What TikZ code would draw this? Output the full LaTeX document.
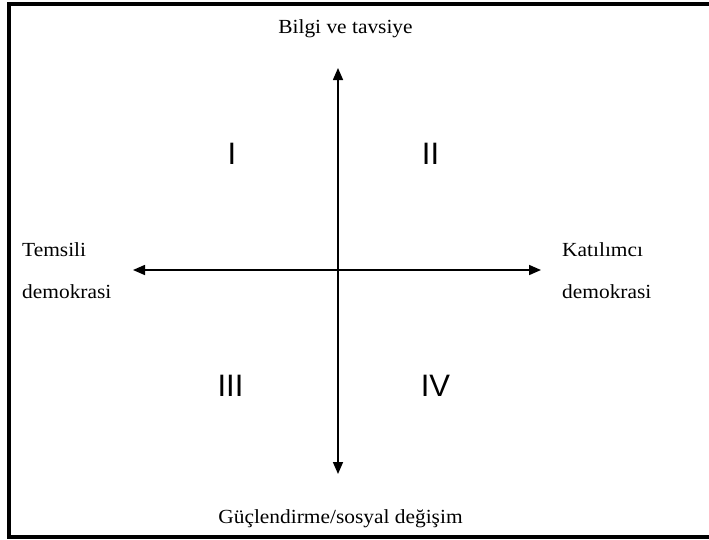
\documentclass[tikz,border=0pt]{standalone}
\usepackage{fontspec}
\setmainfont{Liberation Serif}
\newfontfamily\numfont{Liberation Sans}
\usetikzlibrary{arrows.meta}
\newcommand{\widetext}[1]{\scalebox{1.07}[1]{#1}}
\tikzset{
  frameline/.style={line width=4pt},
  axis/.style={line width=1.6pt, {Triangle[length=12pt,width=10pt]}-{Triangle[length=12pt,width=10pt]}},
  lbl/.style={inner sep=0pt, font=\fontsize{20}{20}\selectfont},
  quad/.style={inner sep=0pt, font=\numfont\fontsize{31}{31}\selectfont}
}
\begin{document}
\begin{tikzpicture}[x=1pt,y=-1pt]
  \useasboundingbox (0,0) rectangle (709,539);
  \fill[white] (0,0) rectangle (709,539);
  \begin{scope}
    \clip (0,0) rectangle (709,539);
    \draw[frameline] (9,4) rectangle (720,537);
  \end{scope}
  % axis end points
  \coordinate (n) at (338,68);
  \coordinate (s) at (338,474);
  \coordinate (w) at (133,270);
  \coordinate (e) at (541,270);
  \draw[axis] (n) -- (s);
  \draw[axis] (w) -- (e);
  % axis labels
  \node[lbl, anchor=base] (top) at (345.5,33) {\widetext{Bilgi ve tavsiye}};
  \node[lbl, anchor=base] (bottom) at (340.5,523) {\widetext{Güçlendirme/sosyal değişim}};
  \node[lbl, anchor=base west] (left1) at (22,256) {\widetext{Temsili}};
  \node[lbl, anchor=base west] (left2) at (22,298) {\widetext{demokrasi}};
  \node[lbl, anchor=base west] (right1) at (562,256) {\widetext{Katılımcı}};
  \node[lbl, anchor=base west] (right2) at (562,298) {\widetext{demokrasi}};
  % quadrant numerals
  \node[quad] (q1) at (232,153.5) {I};
  \node[quad] (q2) at (430.5,153.5) {II};
  \node[quad] (q3) at (230.5,386) {III};
  \node[quad] (q4) at (435.5,386) {IV};
\end{tikzpicture}
\end{document}
